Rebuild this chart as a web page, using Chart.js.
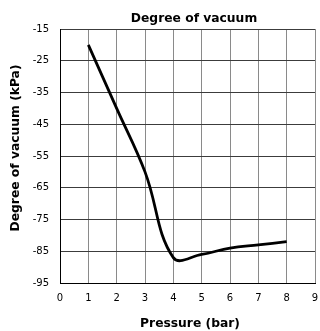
<!DOCTYPE html>
<html><head><meta charset="utf-8">
<script src="https://cdn.jsdelivr.net/npm/chart.js@4/dist/chart.umd.min.js"></script>
<style>html,body{margin:0;padding:0;background:#fff}#wrap{width:320px;height:331px}</style>
</head><body><div id="wrap"><canvas id="c" width="320" height="331"></canvas></div>
<script>
const pressure = [1, 2, 3, 4, 5, 6, 7, 8];
const vacuum = [-20, -40, -60, -87, -86, -84, -83, -82];
const xTicks = [0, 1, 2, 3, 4, 5, 6, 7, 8, 9];
const yTicks = [-95, -85, -75, -65, -55, -45, -35, -25, -15];
const chartTitle = "Degree of vacuum";
const xTitle = "Pressure (bar)";
const yTitle = "Degree of vacuum (kPa)";

const TITLE_FONT = 'bold 12.3px "DejaVu Sans", Verdana, sans-serif';
const titlePlugin = {
  id: 'titles',
  afterDraw(chart) {
    const {ctx} = chart;
    ctx.save();
    ctx.font = TITLE_FONT;
    ctx.fillStyle = '#000';
    ctx.textAlign = 'center';
    ctx.textBaseline = 'middle';
    ctx.fillText(chartTitle, 194, 19);
    ctx.fillText(xTitle, 190, 324);
    ctx.translate(16, 148);
    ctx.rotate(-Math.PI / 2);
    ctx.fillText(yTitle, 0, 0);
    ctx.restore();
  }
};

new Chart(document.getElementById('c'), {
  type: 'line',
  data: {
    datasets: [{
      data: pressure.map((x, i) => ({x: x, y: vacuum[i]})),
      borderColor: '#000',
      borderWidth: 2.8,
      pointRadius: 0,
      fill: false,
      tension: 0.4
    }]
  },
  options: {
    responsive: false,
    animation: false,
    devicePixelRatio: 1,
    layout: {padding: {top: 29, right: 5, left: 0, bottom: 0}},
    plugins: {legend: {display: false}, tooltip: {enabled: false}, title: {display: false}},
    scales: {
      x: {
        type: 'linear', min: 0, max: 9,
        afterBuildTicks(s) { s.ticks = xTicks.map(v => ({value: v})); },
        afterFit(s) { s.height = 48; s.paddingRight = 0; },
        grid: {color: '#8a8a8a', lineWidth: 1, drawTicks: false},
        border: {color: '#000', width: 1},
        ticks: {padding: 9, color: '#000', font: {family: '"DejaVu Sans", Verdana, sans-serif', size: 10}}
      },
      y: {
        type: 'linear', min: -95, max: -15,
        afterBuildTicks(s) { s.ticks = yTicks.map(v => ({value: v})); },
        afterFit(s) { s.width = 60; },
        grid: {color: '#3c3c3c', lineWidth: 1, drawTicks: false},
        border: {color: '#000', width: 1},
        ticks: {padding: 11, color: '#000', font: {family: '"DejaVu Sans", Verdana, sans-serif', size: 10}}
      }
    }
  },
  plugins: [titlePlugin]
});
</script></body></html>
